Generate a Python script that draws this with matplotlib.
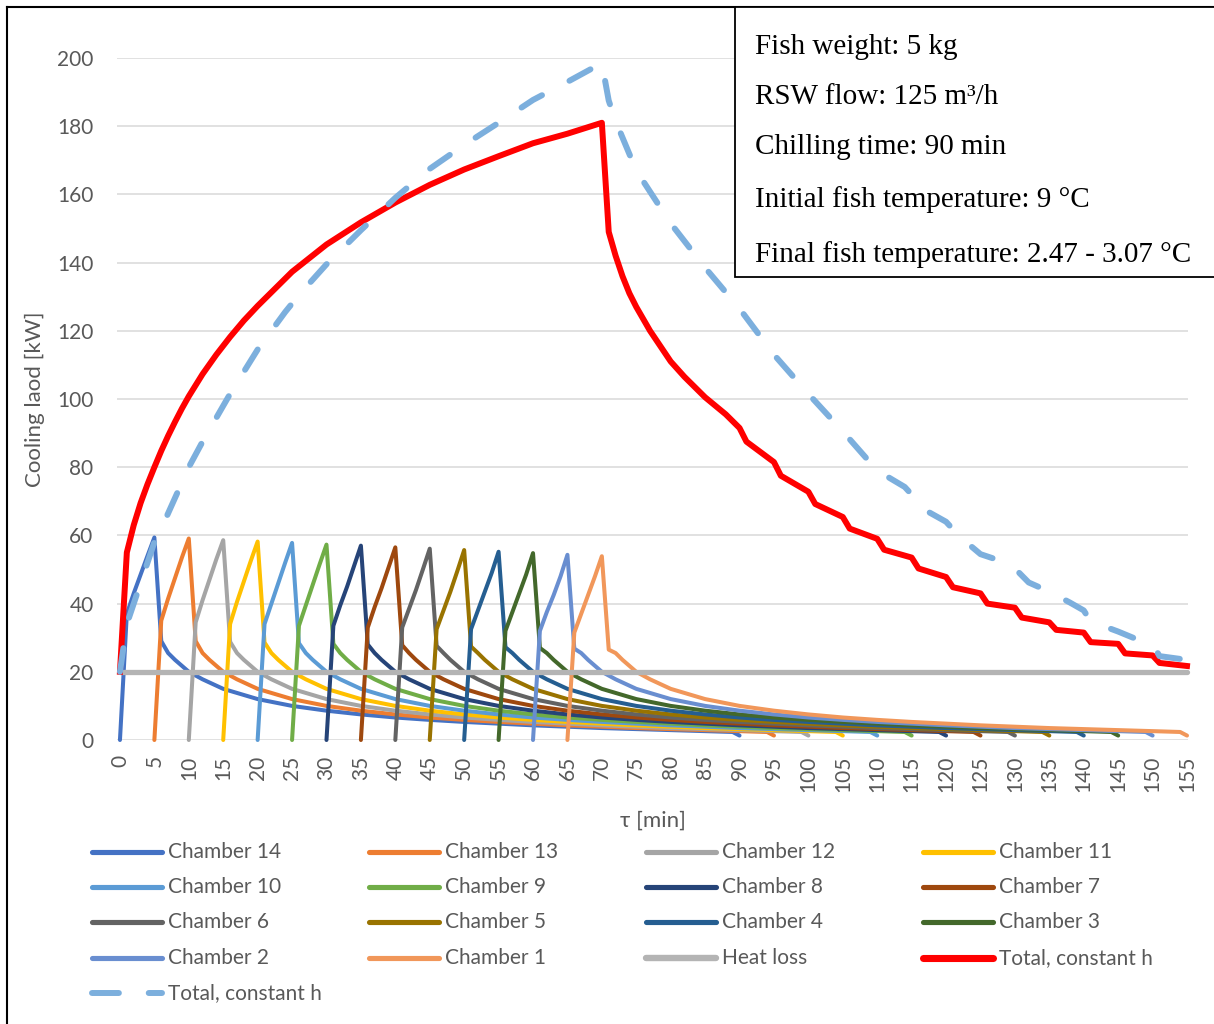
import numpy as np
import matplotlib
matplotlib.use("Agg")
import matplotlib.pyplot as plt
from matplotlib.lines import Line2D
from matplotlib.patches import Rectangle

# ---- datos ----
nombres = ["Chamber 14", "Chamber 13", "Chamber 12", "Chamber 11", "Chamber 10", "Chamber 9", "Chamber 8",
           "Chamber 7", "Chamber 6", "Chamber 5", "Chamber 4", "Chamber 3", "Chamber 2", "Chamber 1"]
colores = ["#4472C4", "#ED7D31", "#A5A5A5", "#FFC000", "#5B9BD5", "#70AD47", "#264478",
           "#9E480E", "#636363", "#997300", "#255E91", "#43682B", "#698ED0", "#F1975A"]
inicio_camara = [0, 5, 10, 15, 20, 25, 30, 35, 40, 45, 50, 55, 60, 65]   # min

# minutos despues del inicio de cada camara
t_rel_inicio = [0, 1, 2, 3, 4, 5, 6]
carga_inicio = [
    [0, 37, 43, 48.5, 54, 59.4, 29.0],
    [0, 35, 41.5, 47.5, 53.5, 59.1, 29.0],
    [0, 34.5, 41, 47, 53, 58.6, 28.8],
    [0, 34, 40.5, 46.5, 52.5, 58.2, 28.6],
    [0, 34, 40, 46, 52, 57.8, 28.4],
    [0, 33.5, 39.5, 45.5, 51.5, 57.3, 28.2],
    [0, 33.5, 39.5, 45, 51, 57.0, 28.0],
    [0, 33, 39, 44.5, 50.5, 56.5, 27.8],
    [0, 33, 38.5, 44, 50, 56.1, 27.6],
    [0, 32.5, 38, 43.5, 49.5, 55.7, 27.4],
    [0, 32.5, 38, 43.5, 49, 55.2, 27.2],
    [0, 32, 37.5, 43, 48.5, 54.8, 27.0],
    [0, 32, 37.5, 42.5, 48, 54.3, 26.8],
    [0, 31.5, 37, 42.5, 48, 53.9, 26.5],
]
t_rel_cola = [7, 8, 10, 12, 15, 20, 25, 30, 35, 40, 45, 50, 55, 60, 65, 70, 75, 80, 85, 89, 90]
carga_cola = [25.5, 23.5, 20, 17.8, 15, 12, 10, 8.6, 7.5, 6.6, 5.9, 5.3, 4.8, 4.3, 3.9, 3.5, 3.2,
              2.9, 2.6, 2.35, 1.3]

t_perdida = [0, 155]
perdida = [20, 20]

t_total = [0, 1, 2, 3, 4, 5, 6, 7, 8, 9, 10, 12, 14, 16, 18, 20, 25, 30, 35, 40, 45, 50, 55, 60, 65, 70,
           71, 72, 73, 74, 75, 77, 80, 82, 85, 88, 90, 91, 95, 96, 100, 101, 105, 106, 110, 111, 115, 116,
           120, 121, 125, 126, 130, 131, 135, 136, 140, 141, 145, 146, 150, 151, 155]
total = [20, 55, 63, 69.5, 75, 80, 84.8, 89.2, 93.3, 97.2, 100.8, 107.3, 113, 118.2, 123, 127.3, 137.3, 145.3,
         151.8, 157.6, 162.8, 167.3, 171.2, 175, 177.8, 181, 149, 142, 136, 131, 127, 120, 111, 106.5,
         100.5, 95.5, 91.5, 87.5, 81.5, 77.5, 72.8, 69.2, 65.4, 62, 59, 55.8, 53.5, 50.3, 47.8, 44.8, 43,
         40, 38.8, 35.9, 34.5, 32.3, 31.5, 28.7, 28.2, 25.4, 24.8, 22.6, 21.7]

t_total2 = [0, 1, 2, 3, 4, 5, 6, 7, 8, 10, 12, 14, 16, 18, 20, 22, 24, 26, 28, 30, 32, 35, 40, 45, 50, 55,
            60, 65, 70, 71, 72, 75, 80, 85, 90, 95, 100, 105, 110, 114, 115, 116, 120, 122, 125, 129, 130,
            132, 135, 138, 140, 141, 145, 148, 150, 151, 155]
total2 = [20, 34, 40, 46, 52, 58, 62, 66.5, 71, 80, 87.5, 94.5, 101.5, 108, 114.5, 120, 125.5, 130.5, 135,
          139.5, 143.5, 149.5, 159, 167.5, 174.5, 181, 187.7, 193, 198.5, 187.5, 181.5, 167, 151.5, 138.5,
          126.5, 113, 101.5, 90.5, 79, 74.2, 72, 68.5, 64, 59.6, 54.5, 51.8, 50.3, 46.2, 43.5, 40.3, 38,
          34.8, 31.8, 29.3, 28.2, 24.6, 23.5]

x_ticks = list(range(0, 160, 5))
y_ticks = list(range(0, 220, 20))

textos_caja = ["Fish weight: 5 kg", "RSW flow: 125 m³/h", "Chilling time: 90 min",
               "Initial fish temperature: 9 °C", "Final fish temperature: 2.47 - 3.07 °C"]

GRIS = "#595959"
W, H = 1214, 1024
plt.rcParams['font.family'] = ['Lato', 'DejaVu Sans']

fig = plt.figure(figsize=(W / 100, H / 100), dpi=100)
ax = fig.add_axes([117.2 / W, 284 / H, 1070.5 / W, 682 / H])

# camaras
handles = []
for i in range(len(nombres)):
    t = [inicio_camara[i] + r for r in t_rel_inicio + t_rel_cola]
    v = carga_inicio[i] + carga_cola
    l, = ax.plot(t, v, color=colores[i], lw=2.9, solid_capstyle='round', solid_joinstyle='round',
                 clip_on=False, zorder=3)
    handles.append(l)

l_perdida, = ax.plot(t_perdida, perdida, color="#B4B4B4", lw=3.8, solid_capstyle='round', clip_on=False,
                     zorder=4)
l_total, = ax.plot(t_total, total, color="#FF0000", lw=4.3, solid_joinstyle='round', clip_on=False, zorder=5)
l_total2, = ax.plot(t_total2, total2, color="#7CAFDD", lw=4.3, ls=(0, (4, 5.2)), dash_capstyle='round',
                    clip_on=False, zorder=6)

ax.set_xlim(-0.4, 155.1)
ax.set_ylim(0, 200)
ax.set_xticks(x_ticks)
ax.set_xticklabels([str(x) for x in x_ticks], rotation=90, va='top', ha='center')
ax.set_yticks(y_ticks)
ax.tick_params(axis='both', length=0, labelsize=15, colors=GRIS)
ax.tick_params(axis='x', pad=11)
ax.tick_params(axis='y', pad=17)
ax.grid(axis='y', color="#D9D9D9", lw=1.1)
ax.set_axisbelow(True)
for s in ax.spines.values():
    s.set_visible(False)

ax.set_xlabel("τ [min]", fontsize=16, color=GRIS, labelpad=14)
ax.set_ylabel("Cooling laod [kW]", fontsize=16, color=GRIS, labelpad=9)

# leyenda hecha a mano (columnas de ancho fijo como en Excel)
orden = handles + [l_perdida, l_total, l_total2]
etiquetas = nombres + ["Heat loss", "Total, constant h", "Total, constant h"]
filas_y = [852, 887, 922, 958, 993]
cols_x = [92, 369, 646, 923]
for k in range(len(orden)):
    fila, col = k // 4, k % 4
    x0 = cols_x[col]
    y0 = 1 - filas_y[fila] / H
    h = orden[k]
    if h is l_total2:
        ln = Line2D([x0 / W, (x0 + 70) / W], [y0, y0], transform=fig.transFigure, color=h.get_color(),
                    lw=4.3, ls=(0, (4.5, 5)), dash_capstyle='round')
    else:
        ln = Line2D([x0 / W, (x0 + 70) / W], [y0, y0], transform=fig.transFigure, color=h.get_color(),
                    lw=h.get_linewidth() + 0.8, solid_capstyle='round')
    fig.add_artist(ln)
    fig.text((x0 + 76) / W, y0, etiquetas[k], fontsize=15, color=GRIS, va='center', ha='left')

# caja de texto
fig.add_artist(Rectangle((735 / W, 1 - 277 / H), 490 / W, 270 / H, transform=fig.transFigure,
                         fill=True, facecolor='white', edgecolor='black', lw=1.3, zorder=10))
lineas_y = [47, 97, 147, 200, 255]
for k in range(len(textos_caja)):
    fig.text(755 / W, 1 - lineas_y[k] / H, textos_caja[k], fontsize=21, family='Liberation Serif',
             color='black', va='center', ha='left', zorder=11)

# borde del grafico
fig.add_artist(Line2D([7 / W, 7 / W], [0, 1 - 7 / H], transform=fig.transFigure, color='black', lw=1.5))
fig.add_artist(Line2D([7 / W, 1], [1 - 7 / H, 1 - 7 / H], transform=fig.transFigure, color='black', lw=1.5))

fig.savefig("out.png", dpi=100)
